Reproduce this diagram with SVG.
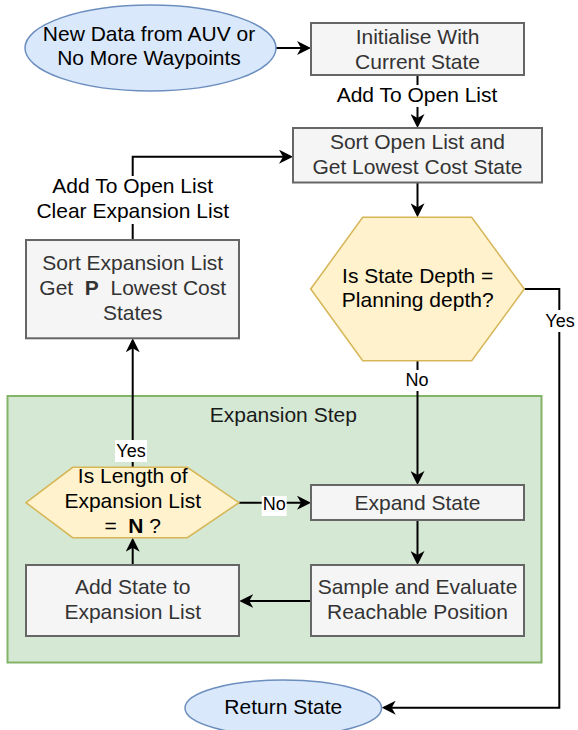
<svg xmlns="http://www.w3.org/2000/svg" width="578" height="730" viewBox="0 0 578 730">
<defs>
<marker id="arr" markerUnits="userSpaceOnUse" markerWidth="14" markerHeight="14" refX="11" refY="7" orient="auto"><path d="M0,0 L14,7 L0,14 L4,7 Z" fill="#000"/></marker>
<style>
text{font-family:"Liberation Sans",Arial,sans-serif;font-size:21px;text-anchor:middle;fill:#000}
.box{fill:#f5f5f5;stroke:#666;stroke-width:2}
.bt{fill:#333}
.dec{fill:#fff2cc;stroke:#d6b656;stroke-width:1.5}
.term{fill:#dae8fc;stroke:#6c8ebf;stroke-width:1.5}
.edge{fill:none;stroke:#000;stroke-width:2;marker-end:url(#arr)}
.lbl{fill:#fff;stroke:none}
.sm{font-size:18px}
</style>
</defs>
<rect x="0" y="0" width="578" height="730" fill="#fff"/>

<g id="expansion-step">
<rect x="7.5" y="396" width="534" height="266.5" fill="#d5e8d4" stroke="#82b366" stroke-width="2"/>
<text x="283.3" y="421.7" style="fill:#1a1a1a">Expansion Step</text>
</g>

<g id="connectors">
<path class="edge" d="M276,48 H308"/>
<path class="edge" d="M417.5,75 V125"/>
<path class="edge" d="M417.5,182.5 V214.3"/>
<path class="edge" d="M524.3,289 H559.3 V707.7 H384.7"/>
<path class="edge" d="M417.5,360.7 V482"/>
<path class="edge" d="M417.5,520 V562"/>
<path class="edge" d="M311,601 H242.3"/>
<path class="edge" d="M132.7,565 V540.7"/>
<path class="edge" d="M239,502.7 H308"/>
<path class="edge" d="M132.7,467.3 V341.3"/>
<path class="edge" d="M132.7,240 V156.7 H290"/>

<rect class="lbl" x="334" y="85" width="167" height="22"/>
<text x="417" y="101.7">Add To Open List</text>
<rect class="lbl" x="543" y="310" width="33" height="22"/>
<text class="sm" x="560" y="326.7">Yes</text>
<rect class="lbl" x="404" y="370" width="27" height="21"/>
<text class="sm" x="417" y="386">No</text>
<rect class="lbl" x="261.7" y="496" width="25" height="20"/>
<text class="sm" x="274.2" y="510">No</text>
<rect class="lbl" x="115" y="440" width="32" height="22"/>
<text class="sm" x="131" y="456.7">Yes</text>
<rect class="lbl" x="35" y="176" width="196" height="48"/>
<text x="132.7" y="193.3">Add To Open List</text>
<text x="132.7" y="218.3">Clear Expansion List</text>
</g>

<g id="start">
<ellipse class="term" cx="150.5" cy="48" rx="125.5" ry="43"/>
<text x="149" y="40.7">New Data from AUV or</text>
<text x="149" y="65">No More Waypoints</text>
</g>

<g id="initialise">
<rect class="box" x="311" y="23" width="213" height="52"/>
<text class="bt" x="417.5" y="43.5">Initialise With</text>
<text class="bt" x="417.5" y="68.5">Current State</text>
</g>

<g id="sort-open">
<rect class="box" x="293" y="128" width="249" height="54.5"/>
<text class="bt" x="417.5" y="149.3">Sort Open List and</text>
<text class="bt" x="417.5" y="174.3">Get Lowest Cost State</text>
</g>

<g id="depth-check">
<polygon class="dec" points="310.7,289 362.7,217.3 471.7,217.3 524.3,289 471.7,360.7 362.7,360.7"/>
<text x="417.7" y="282.7">Is State Depth =</text>
<text x="417.7" y="307.3">Planning depth?</text>
</g>

<g id="sort-expansion">
<rect class="box" x="26" y="240" width="213" height="98.3"/>
<text class="bt" x="132.7" y="270">Sort Expansion List</text>
<text class="bt" x="132.7" y="295">Get&#160;&#160;<tspan font-weight="bold">P</tspan>&#160;&#160;Lowest Cost</text>
<text class="bt" x="132.7" y="320">States</text>
</g>

<g id="expand-state">
<rect class="box" x="311" y="485" width="213" height="35"/>
<text class="bt" x="417.5" y="510">Expand State</text>
</g>

<g id="sample">
<rect class="box" x="311" y="565" width="213" height="71"/>
<text class="bt" x="417.5" y="594">Sample and Evaluate</text>
<text class="bt" x="417.5" y="618.5">Reachable Position</text>
</g>

<g id="add-state">
<rect class="box" x="26" y="565" width="213" height="71"/>
<text class="bt" x="132.7" y="593.5">Add State to</text>
<text class="bt" x="132.7" y="618.5">Expansion List</text>
</g>

<g id="length-check">
<polygon class="dec" points="26,502.7 72.7,467.3 187.3,467.3 239,502.7 187.3,537.7 72.7,537.7"/>
<text x="132.7" y="483.3">Is Length of</text>
<text x="132.7" y="508.3">Expansion List</text>
<text x="132.7" y="532.7">=&#160;&#160;<tspan font-weight="bold">N</tspan> ?</text>
</g>

<g id="return-state">
<ellipse class="term" cx="283.3" cy="708" rx="98.3" ry="28"/>
<text x="283.3" y="714">Return State</text>
</g>
</svg>
